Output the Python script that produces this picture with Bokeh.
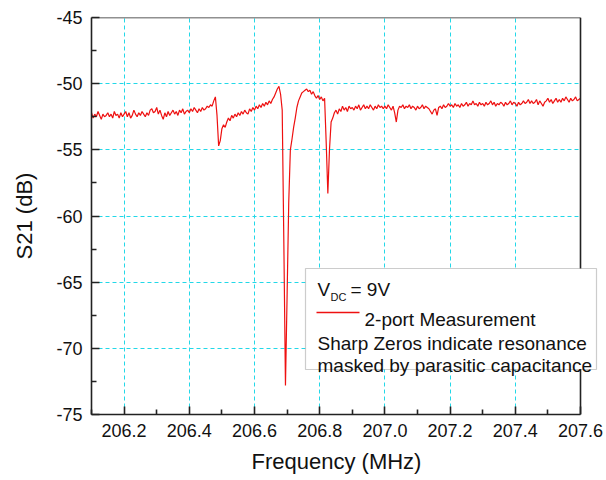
from bokeh.plotting import figure
from bokeh.models import (FixedTicker, PrintfTickFormatter, BoxAnnotation, Label,
                          Arrow, Range1d, Title)
from bokeh.embed import file_html
from bokeh.resources import INLINE
import numpy as np

# ---- data -------------------------------------------------------------
f_start = 206.1          # MHz, sweep start
f_step = 0.005           # MHz, sweep step
s21_db = [
    -52.2, -52.6, -52.3, -52.5, -52.1, -52.4, -52.7, -52.3, -52.5, -52.4,
    -52.2, -52.5, -52.3, -52.6, -52.1, -52.4, -52.3, -52.6, -52.2, -52.5,
    -52.3, -52.1, -52.5, -52.2, -52.6, -52.4, -52.0, -52.3, -52.5, -52.2,
    -52.4, -52.1, -52.3, -52.5, -52.2, -52.4, -52.0, -51.9, -52.2, -52.1,
    -51.8, -52.3, -52.0, -52.4, -52.7, -52.2, -52.5, -52.1, -52.4, -52.2,
    -52.0, -52.3, -52.1, -52.4, -52.0, -52.2, -51.9, -52.3, -52.1, -52.0,
    -52.2, -51.9, -52.1, -51.8, -52.0, -52.2, -51.9, -52.1, -51.8, -52.0,
    -51.9, -51.7, -51.8, -51.6, -51.7, -51.3, -51.0, -52.4, -54.7, -54.3,
    -53.4, -53.1, -53.3, -52.9, -52.6, -52.8, -52.4, -52.6, -52.3, -52.5,
    -52.2, -52.4, -52.1, -52.3, -52.0, -52.2, -52.3, -51.9, -52.1, -51.8,
    -52.0, -51.7, -51.9, -51.6, -51.8, -51.5, -51.7, -51.4, -51.6, -51.3,
    -51.5, -51.2, -51.0, -50.7, -50.4, -50.2, -50.8, -52.0, -62.0, -72.8,
    -66.0, -59.0, -55.0, -54.2, -53.3, -52.6, -51.8, -51.3, -51.0, -50.7,
    -50.6, -50.5, -50.4, -50.6, -50.5, -50.8, -50.6, -50.9, -51.1, -50.9,
    -51.2, -51.0, -51.3, -51.1, -54.5, -58.3, -55.0, -52.9, -52.6, -52.2,
    -52.0, -52.3, -51.9, -52.1, -51.7, -52.0, -51.8, -52.1, -51.7, -51.9,
    -51.8, -52.0, -51.7, -51.9, -51.6, -52.0, -51.8, -51.6, -51.9, -51.7,
    -51.9, -51.6, -51.8, -52.0, -51.7, -51.9, -51.6, -51.8, -51.7, -51.9,
    -51.7, -51.9, -51.6, -51.8, -52.0, -51.7, -52.2, -52.9, -52.0, -51.7,
    -51.8, -51.6, -51.9, -51.7, -51.8, -51.6, -51.9, -51.7, -51.8, -52.0,
    -51.7, -51.9, -51.8, -51.6, -51.9, -51.7, -51.8, -51.9, -52.1, -52.3,
    -52.0, -51.9, -52.4, -51.8, -51.7, -51.9, -51.6, -51.8, -51.7, -51.5,
    -51.7, -51.6, -51.8, -51.5, -51.7, -51.6, -51.8, -51.5, -51.7, -51.6,
    -51.4, -51.7, -51.5, -51.6, -51.3, -51.6, -51.5, -51.7, -51.4, -51.6,
    -51.5, -51.7, -51.4, -51.6, -51.5, -51.3, -51.6, -51.4, -51.7, -51.5,
    -51.6, -51.4, -51.5, -51.7, -51.4, -51.6, -51.5, -51.3, -51.6, -51.4,
    -51.5, -51.7, -51.4, -51.6, -51.5, -51.3, -51.5, -51.4, -51.2, -51.5,
    -51.3, -51.5, -51.4, -51.2, -51.6, -51.3, -51.5, -51.7, -51.4, -51.3,
    -51.1, -51.4, -51.2, -51.5, -51.3, -51.1, -51.4, -51.2, -51.4, -51.1,
    -51.3, -51.0, -51.2, -51.4, -51.1, -51.3, -51.2, -51.0, -51.3, -51.2,
    -51.1,
]
freq_mhz = np.round(f_start + f_step * np.arange(len(s21_db)), 4)

x_min, x_max = 206.1, 207.6
y_min, y_max = -75, -45
x_ticks = [206.2, 206.4, 206.6, 206.8, 207.0, 207.2, 207.4, 207.6]
x_minor = [206.1, 206.3, 206.5, 206.7, 206.9, 207.1, 207.3, 207.5]
y_ticks = [-75, -70, -65, -60, -55, -50, -45]
y_minor = [-72.5, -67.5, -62.5, -57.5, -52.5, -47.5]

series_label = "2-port Measurement"
note_lines = ["Sharp Zeros indicate resonance", "masked by parasitic capacitance"]

# ---- figure -----------------------------------------------------------
FONT = "Liberation Sans"
FL, FR, FT, FB = 91, 580, 17, 414   # plot box edges in pixels
W, H = 606, 480
# the drawing frame runs to the window's right edge so the note box can overhang
x_end = x_min + (x_max - x_min) * (W - FL) / (FR - FL)

p = figure(width=W, height=H, output_backend="svg", toolbar_location=None,
           x_range=Range1d(x_min, x_end), y_range=Range1d(y_min, y_max),
           min_border_left=FL, min_border_right=0,
           min_border_top=FT, min_border_bottom=H - FB)
p.background_fill_color = "white"
p.border_fill_color = "white"
p.outline_line_color = None

for g in (p.xgrid[0], p.ygrid[0]):
    g.grid_line_color = "#22d8e8"
    g.grid_line_dash = "4 3"
    g.grid_line_width = 1
p.xgrid[0].ticker = FixedTicker(ticks=x_ticks)
p.ygrid[0].ticker = FixedTicker(ticks=y_ticks)

# white cover for the area right of the plot box
p.add_layout(BoxAnnotation(left=x_max, fill_color="white", fill_alpha=1.0,
                           line_color=None, level="underlay"))

p.line(freq_mhz, s21_db, line_color="#ee1010", line_width=1.2)

# top and right edges of the plot box
p.segment(x0=[x_min, x_max], y0=[y_max, y_min], x1=[x_max, x_max], y1=[y_max, y_max],
          line_color="#222222", line_width=1.6)

for ax in (p.xaxis[0], p.yaxis[0]):
    ax.axis_line_color = "#222222"
    ax.axis_line_width = 1.6
    ax.major_tick_in = 8
    ax.major_tick_out = 0
    ax.minor_tick_in = 5
    ax.minor_tick_out = 0
    ax.major_tick_line_color = "#222222"
    ax.major_tick_line_width = 1.6
    ax.minor_tick_line_color = "#222222"
    ax.minor_tick_line_width = 1.6
    ax.major_label_text_font = FONT
    ax.major_label_text_font_size = "18px"
    ax.major_label_text_color = "#111111"
    ax.axis_label_text_font = FONT
    ax.axis_label_text_font_size = "22px"
    ax.axis_label_text_font_style = "normal"
    ax.axis_label_text_color = "#111111"

p.xaxis[0].bounds = (x_min, x_max)
p.xaxis[0].ticker = FixedTicker(ticks=x_ticks, minor_ticks=x_minor)
p.yaxis[0].ticker = FixedTicker(ticks=y_ticks, minor_ticks=y_minor)
p.xaxis[0].formatter = PrintfTickFormatter(format="%.1f")
p.yaxis[0].formatter = PrintfTickFormatter(format="%d")
p.yaxis[0].axis_label = "S21 (dB)"
p.xaxis[0].major_label_standoff = 9
p.yaxis[0].major_label_standoff = 9
p.yaxis[0].axis_label_standoff = 16

# x-axis title, placed under the centre of the plot box (not the wider frame)
p.add_layout(Title(text="Frequency (MHz)", align="left", offset=160,
                   text_font=FONT, text_font_size="22px",
                   text_font_style="normal", text_color="#111111",
                   standoff=14), "below")

# ---- legend / note box (screen units relative to frame bottom-left) ----
def sx(px):
    return px - FL

def sy(py):
    return FB - py

box = BoxAnnotation(left=sx(305), right=sx(596), top=sy(268), bottom=sy(369),
                    left_units="screen", right_units="screen",
                    top_units="screen", bottom_units="screen",
                    fill_color="white", fill_alpha=1.0,
                    line_color="#555555", line_width=1.2, level="overlay")
p.add_layout(box)

def txt(x, y, s, size="19px", color="#111111"):
    p.add_layout(Label(x=sx(x), y=sy(y), x_units="screen", y_units="screen",
                       text=s, text_font=FONT, text_font_size=size,
                       text_color=color, text_baseline="alphabetic",
                       text_align="left", level="overlay"))

txt(317, 289, "V")
txt(330, 296, "DC", size="11px")
txt(350, 289, "= 9V")
p.add_layout(Arrow(x_start=sx(316), y_start=sy(312), x_end=sx(359), y_end=sy(312),
                   start_units="screen", end_units="screen", start=None, end=None,
                   line_color="#ee1010", line_width=1.4, level="overlay"))
txt(364, 319, series_label)
txt(317, 343, note_lines[0])
txt(317, 365, note_lines[1])

open("out.html", "w").write(file_html(p, INLINE))
